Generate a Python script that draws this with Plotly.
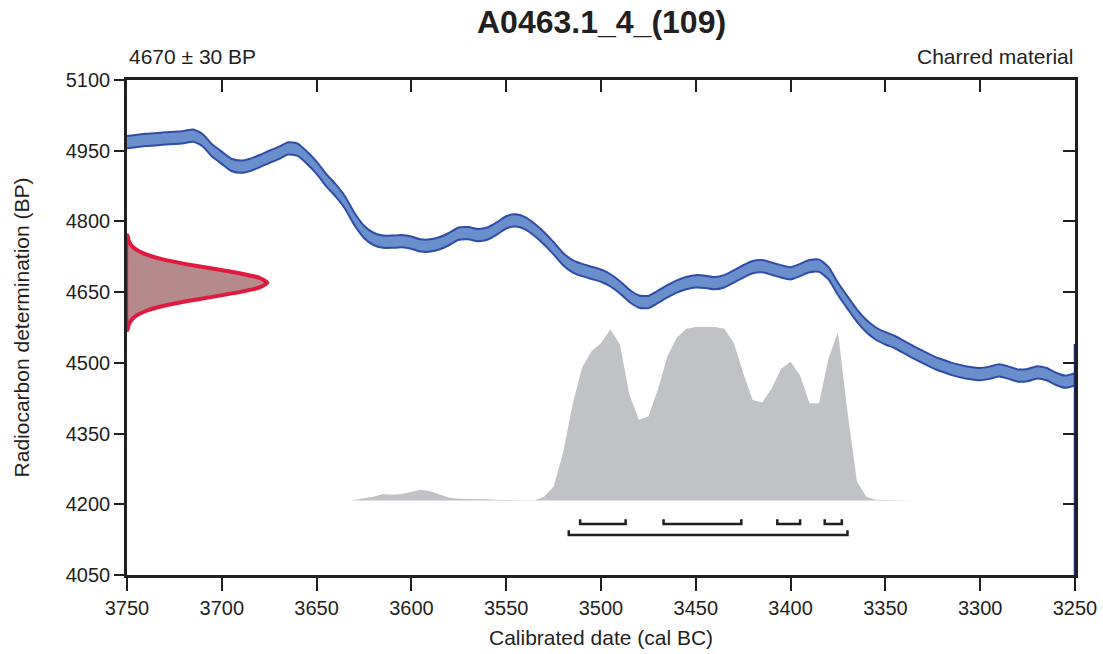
import plotly.graph_objects as go

# ---------------- data ----------------
title_text = "A0463.1_4_(109)"
measurement_text = "4670 ± 30 BP"
material_text = "Charred material"
x_title = "Calibrated date (cal BC)"
y_title = "Radiocarbon determination (BP)"

x_ticks = [3750, 3700, 3650, 3600, 3550, 3500, 3450, 3400, 3350, 3300, 3250]
y_ticks = [4050, 4200, 4350, 4500, 4650, 4800, 4950, 5100]

# calibration curve (cal BC, BP centre) and its 1-sigma half width
curve_year = [3750, 3740, 3730, 3720, 3715, 3710, 3705, 3700, 3695, 3690, 3685, 3680,
              3675, 3670, 3665, 3660, 3655, 3650, 3645, 3640, 3635, 3630, 3625, 3620,
              3615, 3610, 3605, 3600, 3595, 3590, 3585, 3580, 3575, 3570, 3565, 3560,
              3555, 3550, 3545, 3540, 3535, 3530, 3525, 3520, 3515, 3510, 3505, 3500,
              3495, 3490, 3485, 3480, 3475, 3470, 3465, 3460, 3455, 3450, 3445, 3440,
              3435, 3430, 3425, 3420, 3415, 3410, 3405, 3400, 3395, 3390, 3385, 3380,
              3375, 3370, 3365, 3360, 3355, 3350, 3345, 3340, 3335, 3330, 3325, 3320,
              3315, 3310, 3305, 3300, 3295, 3290, 3285, 3280, 3275, 3270, 3265, 3260,
              3255, 3250]
curve_bp = [4968, 4973, 4976, 4979, 4982, 4972, 4950, 4935, 4920, 4916, 4920, 4928,
            4937, 4945, 4955, 4952, 4935, 4914, 4888, 4866, 4840, 4805, 4778, 4763,
            4757, 4757, 4758, 4755, 4749, 4749, 4754, 4763, 4774, 4775, 4771, 4774,
            4785, 4798, 4802, 4796, 4782, 4764, 4743, 4720, 4705, 4697, 4691, 4685,
            4675, 4660, 4642, 4630, 4629, 4640, 4652, 4662, 4669, 4673, 4672, 4669,
            4673, 4683, 4694, 4703, 4705, 4700, 4694, 4690, 4697, 4705, 4706, 4690,
            4657, 4628, 4600, 4578, 4562, 4552, 4544, 4533, 4522, 4512, 4502, 4494,
            4487, 4482, 4478, 4476, 4479, 4484, 4479, 4473, 4474, 4480, 4476, 4466,
            4460, 4465]
curve_sigma = 13

# radiocarbon measurement distribution (BP, relative density)
meas_bp = [4570, 4580, 4590, 4600, 4610, 4620, 4630, 4640, 4650, 4660, 4670,
           4680, 4690, 4700, 4710, 4720, 4730, 4740, 4750, 4760, 4770]
meas_rel = [0.004, 0.011, 0.029, 0.066, 0.135, 0.249, 0.411, 0.607, 0.801, 0.946, 1.0,
            0.946, 0.801, 0.607, 0.411, 0.249, 0.135, 0.066, 0.029, 0.011, 0.004]

# calibrated probability distribution (cal BC, relative probability)
post_year = [3632, 3630, 3625, 3620, 3615, 3610, 3605, 3600, 3595, 3590, 3585, 3580,
             3575, 3570, 3565, 3560, 3555, 3550, 3545, 3540, 3535, 3530, 3525, 3520,
             3515, 3510, 3505, 3500, 3495, 3490, 3485, 3480, 3475, 3470, 3465, 3460,
             3455, 3450, 3445, 3440, 3435, 3430, 3425, 3420, 3415, 3410, 3405, 3400,
             3395, 3390, 3385, 3380, 3375, 3370, 3365, 3360, 3355, 3350, 3345, 3340,
             3335, 3330]
post_prob = [0.0, 0.004, 0.01, 0.022, 0.038, 0.033, 0.038, 0.05, 0.062, 0.053, 0.033, 0.016,
             0.01, 0.01, 0.01, 0.007, 0.004, 0.002, 0.001, 0.001, 0.001, 0.021, 0.079, 0.276,
             0.553, 0.767, 0.86, 0.906, 0.987, 0.90, 0.61, 0.466, 0.484, 0.64, 0.83, 0.94,
             0.99, 1.0, 1.0, 1.0, 0.99, 0.91, 0.735, 0.58, 0.565, 0.645, 0.76, 0.80,
             0.72, 0.56, 0.56, 0.82, 0.97, 0.51, 0.11, 0.022, 0.004, 0.002, 0.001, 0.001,
             0.0, 0.0]

# highest posterior density ranges (cal BC): 68.2% and 95.4%
ranges_68 = [(3511, 3487), (3467, 3426), (3407, 3395), (3382, 3373)]
ranges_95 = [(3517, 3370)]

# ---------------- styling constants ----------------
post_base_bp = 4208      # baseline of the calibrated distribution
post_height_bp = 368     # height of its maximum
meas_width_yr = 74       # width of the measurement curve at its peak
bracket68_bp = 4158
bracket95_bp = 4135
bracket_tick_bp = 10
edge_top_offset_bp = 62  # how far the right-hand band edge rises above the band

axis_col = "#231f20"
curve_line = "#2e4da6"
font_family = "Liberation Sans, Arial, sans-serif"

fig = go.Figure()

# calibrated distribution
post_y = [post_base_bp + p * post_height_bp for p in post_prob]
fig.add_trace(go.Scatter(x=post_year, y=[post_base_bp] * len(post_year), mode="lines",
                         line=dict(width=0, color="rgba(0,0,0,0)"), hoverinfo="skip",
                         showlegend=False))
fig.add_trace(go.Scatter(x=post_year, y=post_y, mode="lines", fill="tonexty",
                         fillcolor="#c1c2c5", line=dict(width=0, color="#c1c2c5"),
                         showlegend=False))

# calibration curve band
upper = [b + curve_sigma for b in curve_bp]
lower = [b - curve_sigma for b in curve_bp]
fig.add_trace(go.Scatter(x=curve_year, y=upper, mode="lines",
                         line=dict(color=curve_line, width=2, shape="spline", smoothing=0.6),
                         showlegend=False))
fig.add_trace(go.Scatter(x=curve_year, y=lower, mode="lines", fill="tonexty",
                         fillcolor="#6a8fcc",
                         line=dict(color=curve_line, width=2, shape="spline", smoothing=0.6),
                         showlegend=False))

# measurement distribution on the y axis
mx = [x_ticks[0] - r * meas_width_yr for r in meas_rel]
fig.add_trace(go.Scatter(x=[x_ticks[0]] + mx + [x_ticks[0], x_ticks[0]],
                         y=[meas_bp[0]] + meas_bp + [meas_bp[-1], meas_bp[0]],
                         mode="lines", fill="toself", fillcolor="#b58a8a",
                         line=dict(color="#e0193f", width=4, shape="spline", smoothing=0.5),
                         showlegend=False))

# range brackets
def bracket(a, b, y):
    fig.add_trace(go.Scatter(x=[a, a, b, b],
                             y=[y + bracket_tick_bp, y, y, y + bracket_tick_bp],
                             mode="lines", line=dict(color=axis_col, width=2.5),
                             showlegend=False))

for a, b in ranges_68:
    bracket(a, b, bracket68_bp)
for a, b in ranges_95:
    bracket(a, b, bracket95_bp)

# dummy trace for mirrored axes
fig.add_trace(go.Scatter(x=[x_ticks[0]], y=[y_ticks[0]], xaxis="x2", yaxis="y2",
                         mode="markers", marker=dict(opacity=0), showlegend=False,
                         hoverinfo="skip"))

# closing edge of the curve band along the right frame
fig.add_trace(go.Scatter(x=[curve_year[-1], curve_year[-1]],
                         y=[upper[-1] + edge_top_offset_bp, y_ticks[0]],
                         xaxis="x2", yaxis="y2",
                         mode="lines", line=dict(color="#1f2d6b", width=2.5),
                         showlegend=False, hoverinfo="skip", cliponaxis=False))

tick_font = dict(family=font_family, size=20, color="#231f20")
text_font = dict(family=font_family, size=21, color="#231f20")

common = dict(tickwidth=2, tickcolor=axis_col, showline=True, linecolor=axis_col,
              linewidth=2.5, showgrid=False, zeroline=False, automargin=False)

fig.update_layout(
    width=1103, height=654,
    margin=dict(l=127, r=28, t=80, b=79, autoexpand=False),
    paper_bgcolor="white", plot_bgcolor="white",
    showlegend=False,
    xaxis=dict(range=[x_ticks[0], x_ticks[-1]], tickvals=x_ticks, ticks="outside",
               ticklen=13, tickfont=tick_font, **common),
    xaxis2=dict(range=[x_ticks[0], x_ticks[-1]], tickvals=x_ticks, ticks="inside",
                ticklen=12, showticklabels=False, overlaying="x", side="top", **common),
    yaxis=dict(range=[y_ticks[0], y_ticks[-1]], tickvals=y_ticks, ticks="outside",
               ticklen=10, tickfont=tick_font, **common),
    yaxis2=dict(range=[y_ticks[0], y_ticks[-1]], tickvals=y_ticks, ticks="inside",
                ticklen=12, showticklabels=False, overlaying="y", side="right", **common),
    annotations=[
        dict(text="<b>" + title_text + "</b>", xref="paper", yref="paper", x=0.5,
             y=1.117, xanchor="center", yanchor="middle", showarrow=False,
             font=dict(family=font_family, size=32, color="#231f20")),
        dict(text=measurement_text, xref="paper", yref="paper", x=0, y=1.047,
             xanchor="left", yanchor="middle", showarrow=False, font=text_font),
        dict(text=material_text, xref="paper", yref="paper", x=1, y=1.047,
             xanchor="right", yanchor="middle", showarrow=False, font=text_font),
        dict(text=x_title, xref="paper", yref="paper", x=0.5, y=-0.1253,
             xanchor="center", yanchor="middle", showarrow=False, font=text_font),
        dict(text=y_title, xref="paper", yref="paper", x=-0.1108, y=0.5,
             xanchor="center", yanchor="middle", showarrow=False, font=text_font,
             textangle=-90),
    ],
)

fig.write_html("out.html", config={"displayModeBar": False},
               post_script="document.body.style.margin='0';"
                           "document.body.style.overflow='hidden';")
